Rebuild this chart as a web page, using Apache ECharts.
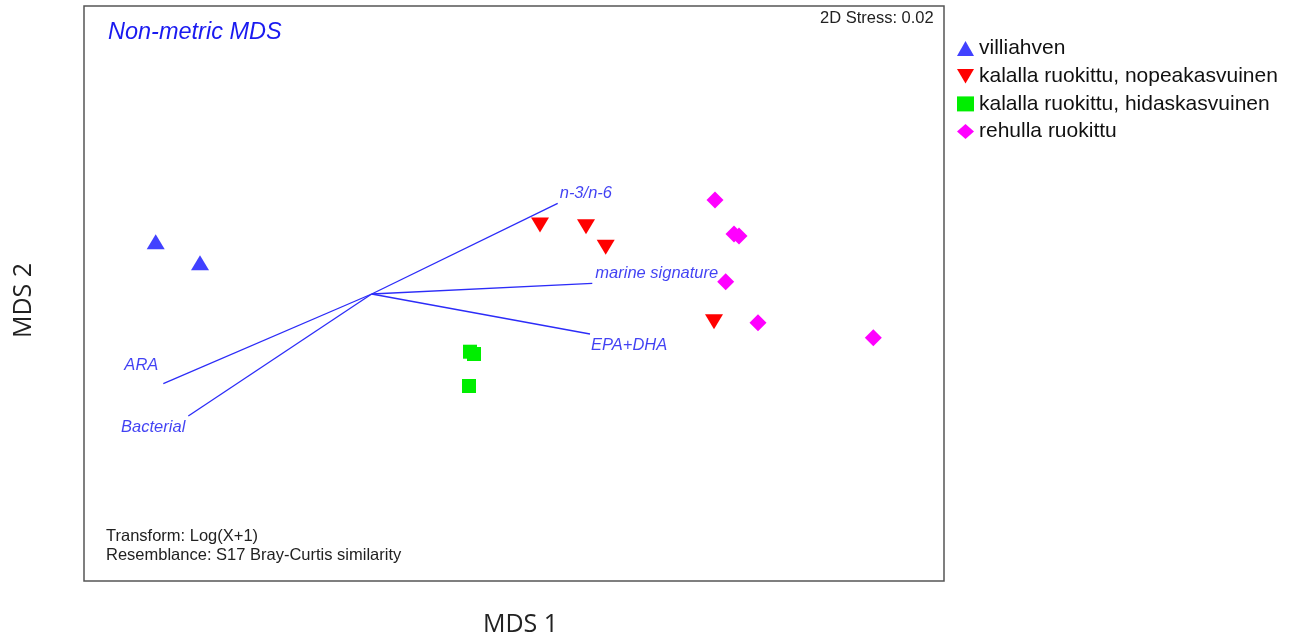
<!DOCTYPE html>
<html>
<head>
<meta charset="utf-8">
<script src="https://cdn.jsdelivr.net/npm/echarts@6/dist/echarts.min.js"></script>
<style>html,body{margin:0;padding:0;background:#fff}#c{width:1293px;height:637px}</style>
</head>
<body>
<div id="c"></div>
<script>
// Sample scores in the ordination plane (MDS 1, MDS 2)
const villiahven = [[71.7, 339.3], [116, 318.3]];
const nopeakasvuinen = [[456, 356], [502, 354.3], [521.7, 333.7], [630, 259.3]];
const hidaskasvuinen = [[386, 229.3], [390, 227], [385, 195]];
const rehulla = [[631, 381], [650, 347], [655, 345], [641.7, 299.3], [674, 258.3], [789.3, 243.3]];
// Vector overlay (origin and end points)
const vectorOrigin = [287.7, 287];
const vectorNames = ['n-3/n-6', 'marine signature', 'EPA+DHA', 'ARA', 'Bacterial'];
const vectorEnds = [[473.7, 377.7], [508.3, 297.7], [506, 247], [79.3, 197.3], [104.3, 165]];
const seriesNames = ['villiahven', 'kalalla ruokittu, nopeakasvuinen', 'kalalla ruokittu, hidaskasvuinen', 'rehulla ruokittu'];

const FONT = "'Liberation Sans', Arial, sans-serif";
const chart = echarts.init(document.getElementById('c'));
const vecCol = '#2c2cf8';
const labelCol = '#1212f0';
const labelCfg = [
  {position: 'right', offset: [-3, -10]},
  {position: 'right', offset: [-2, -10]},
  {position: 'right', offset: [-4, 11]},
  {position: 'left', offset: [0, -18]},
  {position: 'left', offset: [2, 11]}
];
const vectorSeries = vectorNames.map((n, i) => ({
  type: 'line',
  silent: true,
  symbol: 'none',
  lineStyle: {color: vecCol, width: 1.3},
  z: 1,
  data: [vectorOrigin, vectorEnds[i]]
}));
const vectorLabels = {
  type: 'scatter', silent: true, symbolSize: 0, z: 2,
  data: vectorNames.map((n, i) => ({
    value: vectorEnds[i],
    label: {show: true, formatter: n, fontStyle: 'italic', fontSize: 16.5,
      fontFamily: FONT, color: labelCol,
      position: labelCfg[i].position, offset: labelCfg[i].offset}
  }))
};

const downTri = 'path://M0,0 L10,0 L5,8.5 Z';
chart.setOption({
  animation: false,
  grid: {left: 84, top: 6, width: 860, height: 575, show: true, borderColor: '#555', borderWidth: 1.5, backgroundColor: '#fff',
    containLabel: false, outerBoundsMode: 'none'},
  xAxis: {type: 'value', min: 0, max: 860, axisLine: {show: false}, axisTick: {show: false}, axisLabel: {show: false}, splitLine: {show: false},
    name: 'MDS 1', nameLocation: 'middle', nameGap: 31,
    nameTextStyle: {fontSize: 25, color: '#222', fontFamily: "'Open Sans', 'Liberation Sans'", padding: [0, 0, 0, 13]}},
  yAxis: {type: 'value', min: 0, max: 575, axisLine: {show: false}, axisTick: {show: false}, axisLabel: {show: false}, splitLine: {show: false},
    name: 'MDS 2', nameLocation: 'middle', nameGap: 48,
    nameTextStyle: {fontSize: 25, color: '#222', fontFamily: "'Open Sans', 'Liberation Sans'", padding: [0, 14, 0, 0]}},
  legend: {
    orient: 'vertical', left: 952, top: 33, itemWidth: 17, itemHeight: 15, itemGap: 6.7,
    textStyle: {fontSize: 21, color: '#111', fontFamily: FONT, padding: [0, 0, 0, 0]},
    data: [
      {name: seriesNames[0], icon: 'triangle'},
      {name: seriesNames[1], icon: downTri},
      {name: seriesNames[2], icon: 'rect'},
      {name: seriesNames[3], icon: 'diamond'}
    ]
  },
  graphic: [
    {type: 'text', left: 108, top: 21, style: {text: 'Non-metric MDS', fontSize: 23.5, fontStyle: 'italic', fontFamily: FONT, fill: '#1a1af0'}},
    {type: 'text', left: 820, top: 10, style: {text: '2D Stress: 0.02', fontSize: 16.5, fontFamily: FONT, fill: '#222'}},
    {type: 'text', left: 106, top: 528, style: {text: 'Transform: Log(X+1)', fontSize: 16.5, fontFamily: FONT, fill: '#222'}},
    {type: 'text', left: 106, top: 547, style: {text: 'Resemblance: S17 Bray-Curtis similarity', fontSize: 16.5, fontFamily: FONT, fill: '#222'}}
  ],
  series: [
    ...vectorSeries,
    vectorLabels,
    {name: seriesNames[0], type: 'scatter', symbol: 'triangle', symbolSize: [18, 15], itemStyle: {color: '#4141ff', opacity: 1}, data: villiahven, z: 3},
    {name: seriesNames[1], type: 'scatter', symbol: downTri, symbolSize: [18, 15], itemStyle: {color: '#ff0000', opacity: 1}, data: nopeakasvuinen, z: 3},
    {name: seriesNames[2], type: 'scatter', symbol: 'rect', symbolSize: 14, itemStyle: {color: '#00ee00', opacity: 1}, data: hidaskasvuinen, z: 3},
    {name: seriesNames[3], type: 'scatter', symbol: 'diamond', symbolSize: 17, itemStyle: {color: '#ff00ff', opacity: 1}, data: rehulla, z: 3}
  ]
});
</script>
</body>
</html>
